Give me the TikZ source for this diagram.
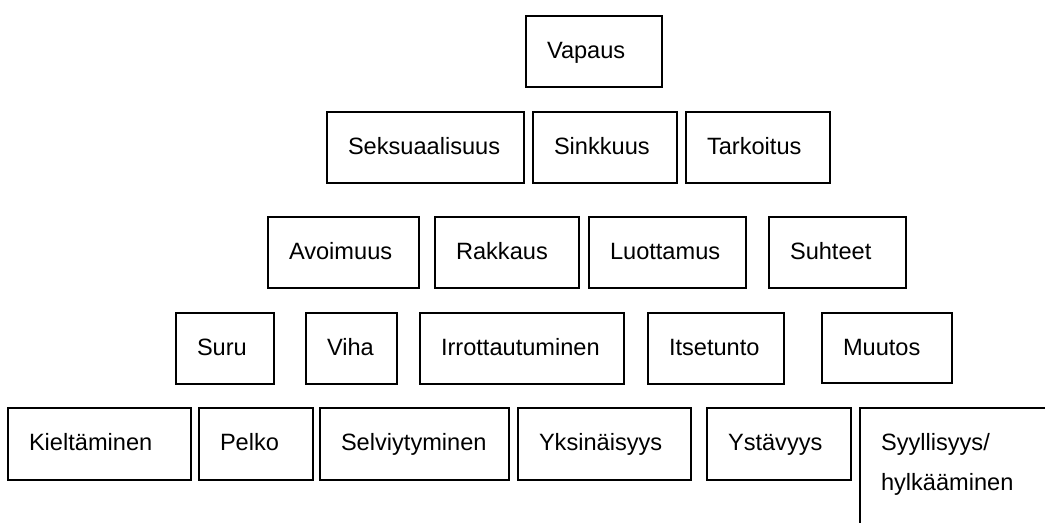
\documentclass[tikz,border=0pt]{standalone}
\usepackage{fontspec}
\setmainfont{Liberation Sans}
\tikzset{
  kbox/.style={draw, line width=1.2pt, anchor=north west, align=left,
    inner xsep=15.75pt, inner ysep=0pt, outer sep=0pt, text height=31.5pt,
    font=\fontsize{17.7pt}{30pt}\selectfont},
  ktext/.style={anchor=base west, inner sep=0pt, outer sep=0pt,
    font=\fontsize{17.7pt}{30pt}\selectfont}
}
\begin{document}
\begin{tikzpicture}[x=0.75pt, y=-0.75pt]
  \useasboundingbox (0,0) rectangle (1045,522); % page size in pixels
  \clip (0,0) rectangle (1045,522);
  % name/left/top/right/bottom/text
  \foreach \N/\L/\T/\R/\B/\Txt in {vapaus/526/16/662/87/Vapaus,
      seks/327/112/524/183/Seksuaalisuus, sink/533/112/677/183/Sinkkuus, tark/686/112/830/183/Tarkoitus,
      avoi/268/217/419/288/Avoimuus, rakk/435/217/579/288/Rakkaus, luot/589/217/746/288/Luottamus, suht/769/217/906/288/Suhteet,
      suru/176/313/274/384/Suru, viha/306/313/397/384/Viha, irro/420/313/624/384/Irrottautuminen, itse/648/313/784/384/Itsetunto, muut/822/313/952/383/Muutos,
      kiel/8/408/191/480/Kieltäminen, pelk/199/408/313/480/Pelko, selv/320/408/509/480/Selviytyminen, yksi/518/408/691/480/Yksinäisyys, ysta/707/408/851/480/Ystävyys}
      {
      \pgfmathsetmacro\W{(\R-\L-42)*0.75}
      \pgfmathsetmacro\D{(\B-\T-42)*0.75}
      \node[kbox, text width=\W pt, text depth=\D pt] (\N) at (\L,\T) {\Txt};
      }
  % last box runs off the page
  \node[kbox, text width=160pt, text depth=90pt] (syyl) at (860,408) {Syyllisyys/};
  \node[ktext] (hylk) at ([shift={(21,40)}]syyl.base west) {hylkääminen};
\end{tikzpicture}
\end{document}
